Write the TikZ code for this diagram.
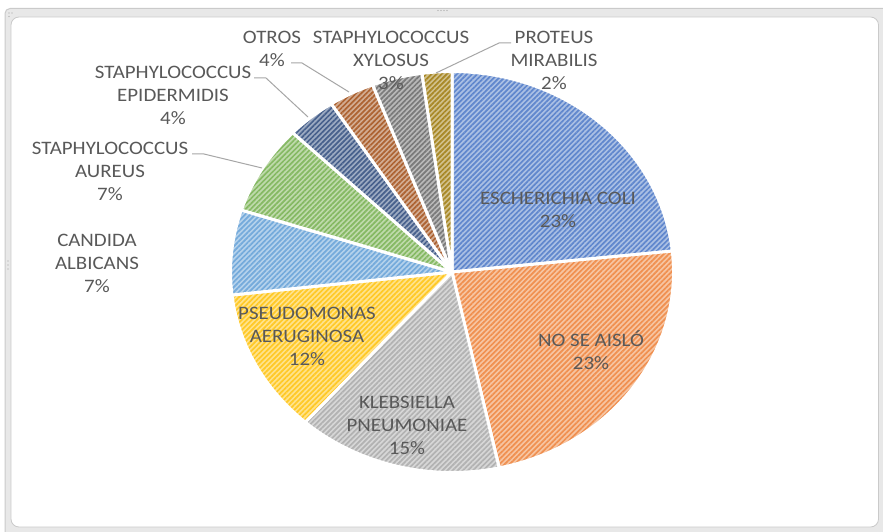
\documentclass[tikz,border=0pt]{standalone}
\usepackage{fontspec}
\setmainfont{Carlito}[FakeStretch=1.1]
\usetikzlibrary{patterns.meta,calc}
\definecolor{cEcoli}{HTML}{4472C4}
\definecolor{cNose}{HTML}{ED7D31}
\definecolor{cKleb}{HTML}{A5A5A5}
\definecolor{cPseudo}{HTML}{FFC000}
\definecolor{cCand}{HTML}{5B9BD5}
\definecolor{cAur}{HTML}{70AD47}
\definecolor{cEpi}{HTML}{264478}
\definecolor{cOtros}{HTML}{9E480E}
\definecolor{cXyl}{HTML}{636363}
\definecolor{cProt}{HTML}{997300}
\definecolor{txt}{HTML}{595959}
\definecolor{leadc}{HTML}{A6A6A6}
\definecolor{bandc}{HTML}{E8E8E8}
\definecolor{edgec}{HTML}{CACACA}
\newcommand\mkslice[3]{%
  \path[preaction={fill=#1!45!white},
        pattern={Lines[angle=45,distance=3.6pt,line width=1.7pt]},
        pattern color=#1!85!white,
        postaction={draw=white,line width=3pt,line join=round}]
    (C) -- ($(C)+(#2:221.5pt and 200.5pt)$)
    arc[start angle=#2,end angle=#3,x radius=221.5pt,y radius=200.5pt] -- cycle;}
\tikzset{
  lbl/.style={text=txt,align=center,inner sep=0pt,font=\fontsize{19}{23}\selectfont},
  leader/.style={draw=leadc,line width=1pt},
}
\begin{document}
\begin{tikzpicture}[x=1pt,y=1pt]
\useasboundingbox (0,0) rectangle (883,531);
\fill[white] (0,0) rectangle (883,531);
% frame
\draw[fill=bandc,draw=edgec,line width=1pt,rounded corners=5pt] (5,-10) rectangle (900,522.5);
\draw[fill=white,draw=edgec,line width=0.8pt,rounded corners=8pt] (11,4) rectangle (878.5,514);
\foreach \xx in {438,441,444,447} \fill[edgec!80!black] (\xx,520.5) circle (0.7);
\foreach \yy in {262,266,270} \fill[edgec!80!black] (8,\yy) circle (0.7);
\fill[edgec!80!black] (9,518) circle (0.7) (12,518) circle (0.7) (9,514.5) circle (0.7);
% pie
\coordinate (C) at (452,259);
\mkslice{cEcoli}{90}{6}
\mkslice{cNose}{6}{-77.7}
\mkslice{cKleb}{-77.7}{-131.5}
\mkslice{cPseudo}{-131.5}{-173.4}
\mkslice{cCand}{-173.4}{-198}
\mkslice{cAur}{-198}{-224}
\mkslice{cEpi}{-224}{-237}
\mkslice{cOtros}{-237}{-249}
\mkslice{cXyl}{-249}{-262.2}
\mkslice{cProt}{-262.2}{-270}
% labels
\node[lbl] (ecoli) at (558,321.5) {ESCHERICHIA COLI\\23\%};
\node[lbl] (nose) at (591,181) {NO SE AISLÓ\\23\%};
\node[lbl] (kleb) at (407,106) {KLEBSIELLA\\PNEUMONIAE\\15\%};
\node[lbl] (pseudo) at (307,195) {PSEUDOMONAS\\AERUGINOSA\\12\%};
\node[lbl] (cand) at (97,267.5) {CANDIDA\\ALBICANS\\7\%};
\node[lbl] (aur) at (110,360) {STAPHYLOCOCCUS\\AUREUS\\7\%};
\node[lbl] (epi) at (173,435.5) {STAPHYLOCOCCUS\\EPIDERMIDIS\\4\%};
\node[lbl] (otros) at (272,482) {OTROS\\4\%};
\node[lbl] (xyl) at (391,471) {STAPHYLOCOCCUS\\XYLOSUS\\3\%};
\node[lbl] (prot) at (554,471) {PROTEUS\\MIRABILIS\\2\%};
% leader lines
\coordinate (aurA) at (192,377);
\coordinate (aurB) at (262,363);
\coordinate (epiA) at (254,453);
\coordinate (epiB) at (308,414);
\coordinate (otrA) at (291,468);
\coordinate (otrB) at (349,439);
\coordinate (proA) at (511,488);
\coordinate (proB) at (436,458);
\draw[leader] (aurA) -- ++(12,0) -- (aurB);
\draw[leader] (epiA) -- ++(12,0) -- (epiB);
\draw[leader] (otrA) -- ++(11,0) -- (otrB);
\draw[leader] (proA) -- ++(-12,0) -- (proB);
\end{tikzpicture}
\end{document}
